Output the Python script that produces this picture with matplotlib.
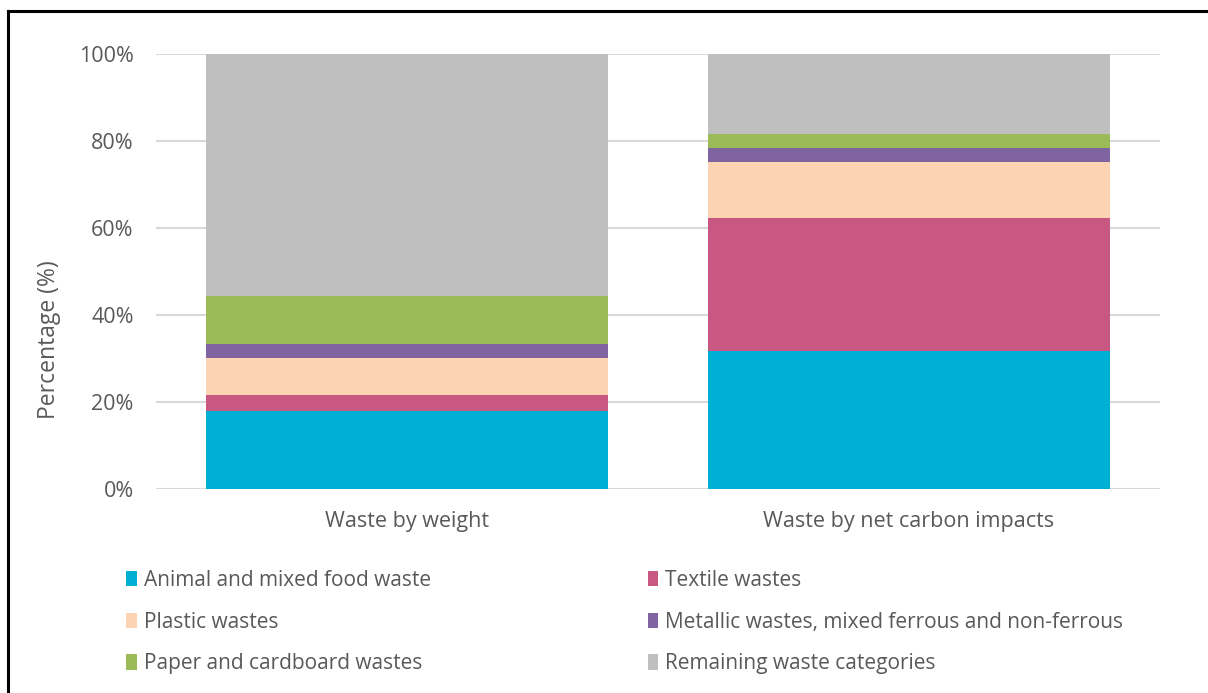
import matplotlib.pyplot as plt
from matplotlib.lines import Line2D
import numpy as np

plt.rcParams['font.family'] = ['Open Sans', 'DejaVu Sans']

categories = ['Waste by weight', 'Waste by net carbon impacts']
series = ['Animal and mixed food waste', 'Textile wastes', 'Plastic wastes',
          'Metallic wastes, mixed ferrous and non-ferrous',
          'Paper and cardboard wastes', 'Remaining waste categories']
animal = [17.9, 31.7]
textile = [3.8, 30.6]
plastic = [8.3, 12.8]
metallic = [3.3, 3.3]
paper = [11.1, 3.2]
remaining = [55.6, 18.4]
colors = ['#00b0d4', '#c85782', '#fcd4b4', '#8064a2', '#9bbb59', '#bfbfbf']

values = [animal, textile, plastic, metallic, paper, remaining]

fig = plt.figure(figsize=(12.08, 6.93), dpi=100)
ax = fig.add_axes([0.1291, 0.2944, 0.8311, 0.6277])

x = np.arange(len(categories))
bottom = np.zeros(len(categories))
handles = []
for name, vals, c in zip(series, values, colors):
    b = ax.bar(x, vals, width=0.8, bottom=bottom, color=c, label=name, zorder=3)
    handles.append(b)
    bottom += np.array(vals)

ax.set_xlim(-0.5, 1.5)
ax.set_ylim(0, 100)
ax.set_yticks(np.arange(0, 101, 20))
ax.set_yticklabels([f'{v}%' for v in range(0, 101, 20)])
ax.set_xticks(x)
ax.set_xticklabels(categories)
ax.grid(axis='y', color='#d9d9d9', linewidth=1.5, zorder=0)
ax.tick_params(length=0, labelsize=15.5, colors='#595959')
ax.tick_params(axis='y', pad=16)
ax.tick_params(axis='x', pad=16)
for s in ax.spines.values():
    s.set_visible(False)
ax.set_ylabel('Percentage (%)', fontsize=16.5, color='#595959')
ax.yaxis.set_label_coords(-0.095, 0.343)

# legend ordered row by row: Excel style, two columns
order = [0, 2, 4, 1, 3, 5]
fig.legend([handles[i] for i in order], [series[i] for i in order],
           ncol=2, loc='upper left', bbox_to_anchor=(0.089, 0.205),
           frameon=False, fontsize=15, labelcolor='#595959',
           handlelength=0.5, handleheight=0.75, handletextpad=0.35,
           labelspacing=1.0, columnspacing=10.4)

# outer frame (only top and left edges show)
fig.add_artist(Line2D([0.007, 1.0], [0.984, 0.984], color='black', lw=2.2))
fig.add_artist(Line2D([0.007, 0.007], [0.0, 0.984], color='black', lw=2.2))

fig.savefig('out.png', dpi=100)
